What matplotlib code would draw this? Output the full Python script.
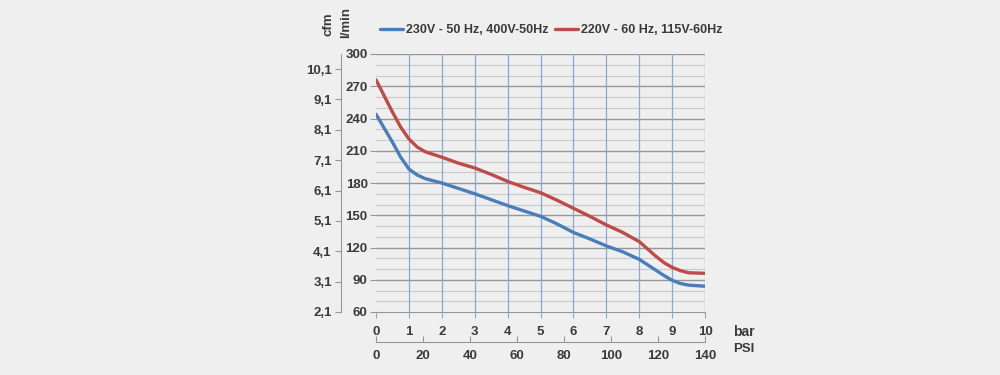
import matplotlib.pyplot as plt
import numpy as np

# pressure in bar and flow in l/min
bar = [0, 0.5, 0.75, 1, 1.25, 1.5, 2, 2.5, 3, 3.5, 4, 4.5, 5, 5.5, 6, 6.5, 7, 7.5,
       8, 8.5, 8.75, 9, 9.25, 9.5, 10]
flow_50hz = [244, 218, 204, 193, 187.5, 184, 180, 175, 170, 164.5, 159, 154, 149, 142,
             134, 128, 121.5, 116, 109, 99, 94, 89.5, 86.5, 85, 84]
flow_60hz = [276, 246, 232, 221, 213.5, 209, 204, 198.5, 194, 188, 181.5, 176, 171, 164,
             156.5, 149, 141, 134, 125.5, 112, 106, 101.5, 98.5, 96.5, 96]
labels = ["230V - 50 Hz, 400V-50Hz", "220V - 60 Hz, 115V-60Hz"]

bar_ticks = list(range(0, 11))
lmin_ticks = list(range(60, 301, 30))
cfm_ticks = [2.1, 3.1, 4.1, 5.1, 6.1, 7.1, 8.1, 9.1, 10.1]
psi_ticks = list(range(0, 141, 20))

PSI_PER_BAR = 14.0

BG = "#efefef"
TXT = "#3a3a3a"
BLUE = "#4a7ebb"
RED = "#be4b48"


def lmin_to_cfm(y):
    return 2.1 + (y - 60) / 28.25


def cfm_to_lmin(c):
    return 60 + (c - 2.1) * 28.25


plt.rcParams['font.family'] = ['Liberation Sans', 'DejaVu Sans']
plt.rcParams['font.weight'] = 'bold'
plt.rcParams['font.size'] = 9

fig = plt.figure(figsize=(10, 3.75), dpi=100, facecolor=BG)
ax = fig.add_axes([0.376, 0.168, 0.329, 0.688], facecolor=BG)

# grid: gray horizontals (darker every 30), blue verticals on top
for h in range(70, 301, 10):
    if h % 30:
        ax.axhline(h, color="#cacaca", lw=0.8, zorder=1)
    else:
        ax.axhline(h, color="#979797", lw=1.0, zorder=1)
for v in bar_ticks[1:]:
    ax.axvline(v, color="#8aa9d6", lw=0.9, zorder=1.5)

ax.plot(bar, flow_50hz, color=BLUE, lw=2.4, solid_joinstyle='round', solid_capstyle='round',
        label=labels[0], zorder=3)
ax.plot(bar, flow_60hz, color=RED, lw=2.4, solid_joinstyle='round', solid_capstyle='round',
        label=labels[1], zorder=3)

ax.set_xlim(0, 10)
ax.set_ylim(60, 300)
ax.set_xticks(bar_ticks)
ax.set_yticks(lmin_ticks)
for s in ["top", "right", "left"]:
    ax.spines[s].set_visible(False)
ax.spines["bottom"].set_color("#979797")
ax.tick_params(axis='x', length=4, color="#8aa9d6", pad=6, labelcolor=TXT, labelsize=9.5)
ax.tick_params(axis='y', length=4, color="#979797", pad=2, labelcolor=TXT, labelsize=9.5)

# cfm axis on the far left
cfm = ax.secondary_yaxis(-0.105, functions=(lmin_to_cfm, cfm_to_lmin))
cfm.set_yticks(cfm_ticks)
cfm.set_yticklabels([f"{c:.1f}".replace(".", ",") for c in cfm_ticks])
cfm.spines["left"].set_color("#979797")
cfm.tick_params(axis='y', length=4, color="#979797", pad=3, labelcolor=TXT, labelsize=9.5)

# PSI axis below the bar axis
psi = ax.secondary_xaxis(-0.115, functions=(lambda b: b * PSI_PER_BAR,
                                            lambda p: p / PSI_PER_BAR))
psi.set_xticks(psi_ticks)
psi.spines["bottom"].set_color("#979797")
psi.tick_params(axis='x', direction='in', length=4, color="#979797", pad=6,
                labelcolor=TXT, labelsize=9.5)

fig.text(0.329, 0.935, "cfm", rotation=90, ha='center', va='center', color=TXT, fontsize=9.5)
fig.text(0.346, 0.94, "l/min", rotation=90, ha='center', va='center', color=TXT, fontsize=9.5)
fig.text(0.733, 0.115, "bar", ha='left', va='center', color=TXT, fontsize=10)
fig.text(0.733, 0.07, "PSI", ha='left', va='center', color=TXT, fontsize=9.5)

fig.legend(loc='center', bbox_to_anchor=(0.551, 0.92), ncol=2, frameon=False,
           handlelength=1.9, handletextpad=0.2, columnspacing=0.5,
           labelcolor=TXT, prop={'weight': 'bold', 'size': 9})

fig.savefig("out.png", dpi=100, facecolor=BG)
